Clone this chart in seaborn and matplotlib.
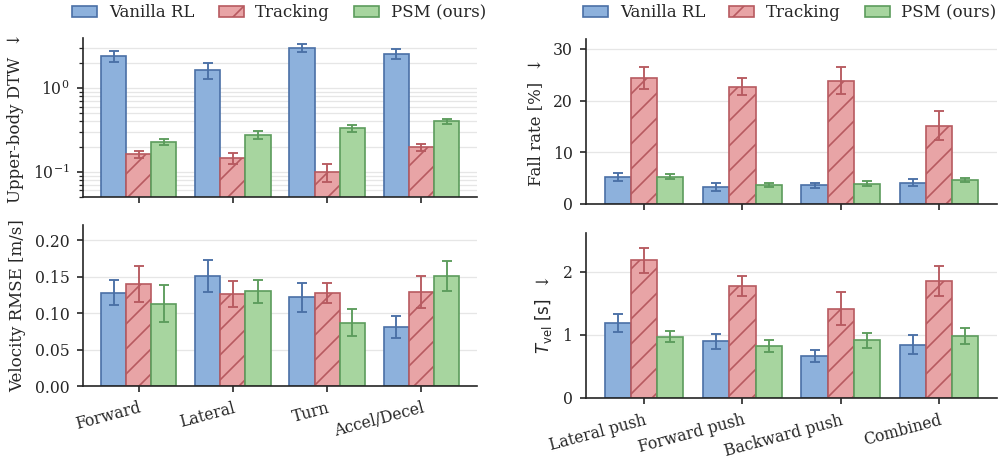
import numpy as np
import pandas as pd
import matplotlib
matplotlib.use("Agg")
import matplotlib.pyplot as plt
import seaborn as sns
from matplotlib.patches import Patch

# ---- data ----
methods = ["Vanilla RL", "Tracking", "PSM (ours)"]
gait_tasks = ["Forward", "Lateral", "Turn", "Accel/Decel"]
push_tasks = ["Lateral push", "Forward push", "Backward push", "Combined"]

dtw_mean = {
    "Vanilla RL": [2.40, 1.64, 3.02, 2.56],
    "Tracking": [0.162, 0.146, 0.099, 0.195],
    "PSM (ours)": [0.226, 0.278, 0.331, 0.400],
}
dtw_err = {
    "Vanilla RL": [0.35, 0.37, 0.30, 0.35],
    "Tracking": [0.016, 0.021, 0.024, 0.020],
    "PSM (ours)": [0.020, 0.030, 0.035, 0.030],
}

vel_mean = {
    "Vanilla RL": [0.128, 0.151, 0.122, 0.081],
    "Tracking": [0.140, 0.126, 0.1275, 0.129],
    "PSM (ours)": [0.113, 0.130, 0.087, 0.151],
}
vel_err = {
    "Vanilla RL": [0.017, 0.022, 0.020, 0.015],
    "Tracking": [0.025, 0.018, 0.014, 0.022],
    "PSM (ours)": [0.025, 0.016, 0.019, 0.020],
}

fall_mean = {
    "Vanilla RL": [5.2, 3.3, 3.6, 4.1],
    "Tracking": [24.4, 22.7, 23.8, 15.1],
    "PSM (ours)": [5.3, 3.6, 3.9, 4.65],
}
fall_err = {
    "Vanilla RL": [0.8, 0.75, 0.5, 0.65],
    "Tracking": [2.1, 1.7, 2.6, 2.8],
    "PSM (ours)": [0.45, 0.4, 0.5, 0.45],
}

tvel_mean = {
    "Vanilla RL": [1.19, 0.90, 0.665, 0.845],
    "Tracking": [2.18, 1.77, 1.415, 1.85],
    "PSM (ours)": [0.97, 0.82, 0.91, 0.975],
}
tvel_err = {
    "Vanilla RL": [0.145, 0.12, 0.09, 0.15],
    "Tracking": [0.195, 0.16, 0.26, 0.24],
    "PSM (ours)": [0.09, 0.10, 0.12, 0.125],
}

face = {"Vanilla RL": "#8db1dc", "Tracking": "#e8a4a6", "PSM (ours)": "#a7d59f"}
edge = {"Vanilla RL": "#4a70a6", "Tracking": "#b75a60", "PSM (ours)": "#5c9c5c"}
hatch = {"Vanilla RL": "", "Tracking": "//", "PSM (ours)": ""}

sns.set_theme(style="ticks")
plt.rcParams["font.family"] = ["DejaVu Serif", "DejaVu Sans"]
plt.rcParams["hatch.linewidth"] = 0.8
plt.rcParams["axes.linewidth"] = 0.8
plt.rcParams["xtick.major.width"] = 0.8
plt.rcParams["ytick.major.width"] = 0.8
plt.rcParams["ytick.minor.width"] = 0.6
plt.rcParams["xtick.major.size"] = 3
plt.rcParams["ytick.major.size"] = 3
plt.rcParams["ytick.minor.size"] = 1.8

TICK_FS = 7.5
LABEL_FS = 8


def to_long(tasks, means):
    rows = []
    for m in methods:
        for t, v in zip(tasks, means[m]):
            rows.append({"task": t, "method": m, "value": v})
    return pd.DataFrame(rows)


def draw(ax, tasks, means, errs, ylabel, log=False):
    df = to_long(tasks, means)
    sns.barplot(data=df, x="task", y="value", hue="method", hue_order=methods,
                order=tasks, palette=face, saturation=1, errorbar=None, width=0.8,
                linewidth=0.8, legend=False, ax=ax)
    for cont, m in zip(ax.containers, methods):
        xs, ys = [], []
        for bar in cont:
            bar.set_edgecolor(edge[m])
            bar.set_hatch(hatch[m])
            xs.append(bar.get_x() + bar.get_width() / 2)
            ys.append(bar.get_height())
        ax.errorbar(xs, ys, yerr=errs[m], fmt="none", ecolor=edge[m],
                    elinewidth=0.9, capsize=2.2, capthick=0.9, zorder=3)
    if log:
        ax.set_yscale("log")
        ax.grid(True, which="both", axis="y", color="#e6e6e6", lw=0.6)
    else:
        ax.grid(True, axis="y", color="#e6e6e6", lw=0.6)
    ax.set_axisbelow(True)
    ax.set_xlim(-0.59, 3.59)
    ax.set_xlabel("")
    ax.set_ylabel(ylabel, fontsize=LABEL_FS)
    ax.tick_params(axis="both", labelsize=TICK_FS)
    sns.despine(ax=ax)


fig = plt.figure(figsize=(1003 / 150, 459 / 150), dpi=150)
ax_dtw = fig.add_axes([0.0828, 0.5708, 0.3928, 0.3464])
ax_vel = fig.add_axes([0.0828, 0.1590, 0.3928, 0.3508])
ax_fall = fig.add_axes([0.5843, 0.5556, 0.4098, 0.3595])
ax_tvel = fig.add_axes([0.5843, 0.1329, 0.4098, 0.3595])

draw(ax_dtw, gait_tasks, dtw_mean, dtw_err, "Upper-body DTW  \u2193", log=True)
ax_dtw.set_ylim(0.05, 3.95)
ax_dtw.set_xticklabels([])

draw(ax_vel, gait_tasks, vel_mean, vel_err, "Velocity RMSE [m/s]")
ax_vel.set_ylim(0, 0.221)
ax_vel.set_yticks([0.0, 0.05, 0.10, 0.15, 0.20])
ax_vel.set_yticklabels(["0.00", "0.05", "0.10", "0.15", "0.20"])

draw(ax_fall, push_tasks, fall_mean, fall_err, "Fall rate [%]  \u2193")
ax_fall.set_ylim(0, 31.9)
ax_fall.set_yticks([0, 10, 20, 30])
ax_fall.set_xticklabels([])

draw(ax_tvel, push_tasks, tvel_mean, tvel_err, "$T_{\\mathrm{vel}}\\ [\\mathrm{s}]$  \u2193")
ax_tvel.set_ylim(0, 2.61)
ax_tvel.set_yticks([0, 1, 2])

for ax in (ax_vel, ax_tvel):
    for lab in ax.get_xticklabels():
        lab.set_rotation(15)
        lab.set_ha("right")
        lab.set_rotation_mode("anchor")

handles = [Patch(facecolor=face[m], edgecolor=edge[m], hatch=hatch[m], linewidth=0.8, label=m)
           for m in methods]
for ax, x in ((ax_dtw, 0.2785), (ax_fall, 0.7875)):
    fig.legend(handles=handles, loc="center", bbox_to_anchor=(x, 0.972), ncol=3,
               frameon=False, fontsize=LABEL_FS, handlelength=1.5, handleheight=0.7,
               handletextpad=0.7, columnspacing=1.45)

fig.savefig("out.png", dpi=150)
